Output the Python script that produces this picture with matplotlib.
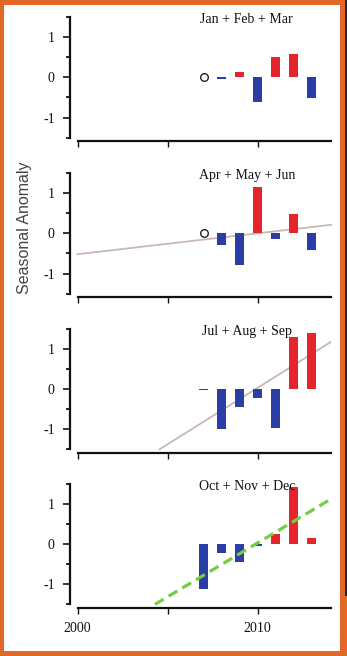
import matplotlib
matplotlib.use("Agg")
import matplotlib.pyplot as plt
from matplotlib.patches import Rectangle

# ---------------- data ----------------
years = [2007, 2008, 2009, 2010, 2011, 2012, 2013]
seasons = ["Jan + Feb + Mar", "Apr + May + Jun", "Jul + Aug + Sep", "Oct + Nov + Dec"]
jfm = [None, -0.04, 0.13, -0.62, 0.50, 0.57, -0.52]
amj = [None, -0.30, -0.80, 1.16, -0.15, 0.49, -0.42]
jas = [-0.02, -0.99, -0.46, -0.23, -0.97, 1.28, 1.39]
ond = [-1.13, -0.22, -0.45, -0.05, 0.25, 1.42, 0.15]
season_values = [jfm, amj, jas, ond]
circle_year = 2007
circle_value = 0.0
# trend lines (start/end year, start/end value)
trend_amj_x = [2000.0, 2014.1]
trend_amj_y = [-0.52, 0.21]
trend_jas_x = [2004.55, 2014.05]
trend_jas_y = [-1.5, 1.16]
trend_ond_x = [2004.3, 2013.95]
trend_ond_y = [-1.5, 1.08]
xticks = [2000, 2005, 2010]
xticklabels = ["2000", "", "2010"]
yticks_major = [-1, 0, 1]
yticks_minor = [-1.5, -0.5, 0.5, 1.5]

RED = "#e4262c"
BLUE = "#2a3ea6"
ORANGE = "#e2682a"
SERIF = ["Liberation Serif", "DejaVu Serif"]

W, H = 347, 656
fig = plt.figure(figsize=(W / 100, H / 100), dpi=100)
fig.patch.set_facecolor(ORANGE)
bg = fig.add_axes([0, 0, 1, 1], zorder=-10)
bg.set_axis_off()
bg.set_xlim(0, W)
bg.set_ylim(0, H)
bg.add_patch(Rectangle((4, 5), 340 - 4, 651 - 5, facecolor="white", edgecolor="none"))
bg.add_patch(Rectangle((345, 60), 2, H - 60, facecolor="#1c2a3a", edgecolor="none"))

ymin, ymax = -1.58, 1.5
px_per_unit = 40.3
ax_h = (ymax - ymin) * px_per_unit
tops = [16.8, 172.8, 328.5, 483.5]
left_px = 70
right_px = 334
xmin = 2000 - 7.5 / 18
xmax = 2000 + (right_px - 77.5) / 18

for i, (top, vals, name) in enumerate(zip(tops, season_values, seasons)):
    ax = fig.add_axes([left_px / W, 1 - (top + ax_h) / H, (right_px - left_px) / W, ax_h / H])
    ax.set_facecolor("none")
    ax.set_xlim(xmin, xmax)
    ax.set_ylim(ymin, ymax)
    for s in ["top", "right"]:
        ax.spines[s].set_visible(False)
    ax.spines["left"].set_bounds(-1.5, 1.5)
    ax.spines["bottom"].set_bounds(2000, 2014.1)
    for s in ["left", "bottom"]:
        ax.spines[s].set_linewidth(1.6)
        ax.spines[s].set_color("#111111")

    bx = [y for y, v in zip(years, vals) if v is not None]
    bv = [v for v in vals if v is not None]
    colors = [RED if v > 0 else BLUE for v in bv]
    ax.bar(bx, bv, width=0.55, color=colors, zorder=3)

    if i < 2:
        ax.plot([circle_year], [circle_value], marker="o", ms=5.5, mfc="white",
                mec="#222222", mew=1.0, zorder=4)
    if i == 1:
        ax.plot(trend_amj_x, trend_amj_y, color="#c9b8b2", lw=1.3, zorder=2)
    if i == 2:
        ax.plot(trend_jas_x, trend_jas_y, color="#c9b8b2", lw=1.3, zorder=2)
    if i == 3:
        ax.plot(trend_ond_x, trend_ond_y, color="#72cf45", lw=2.3,
                dashes=(3.2, 1.8), zorder=4)

    ax.text(2009.4, 1.43, name, ha="center", va="center", fontsize=10,
            family=SERIF, color="#111111", zorder=5)

    ax.set_yticks(yticks_major)
    ax.set_yticks(yticks_minor, minor=True)
    ax.set_yticklabels([str(v) for v in yticks_major], family=SERIF, fontsize=10)
    ax.tick_params(axis="y", which="major", length=5, width=1.2, pad=6, colors="#111111")
    ax.tick_params(axis="y", which="minor", length=3, width=1.2)
    ax.set_xticks(xticks)
    ax.tick_params(axis="x", which="major", length=4, width=1.0, pad=6, colors="#111111")
    if i == 3:
        ax.set_xticklabels(xticklabels, family=SERIF, fontsize=10)
    else:
        ax.set_xticklabels([])

fig.text(25 / W, 1 - 228 / H, "Seasonal Anomaly", rotation=90, ha="center", va="center",
         fontsize=11.5, family=["Liberation Sans", "DejaVu Sans"], color="#444444")

fig.savefig("out.png", dpi=100, facecolor=fig.get_facecolor())
